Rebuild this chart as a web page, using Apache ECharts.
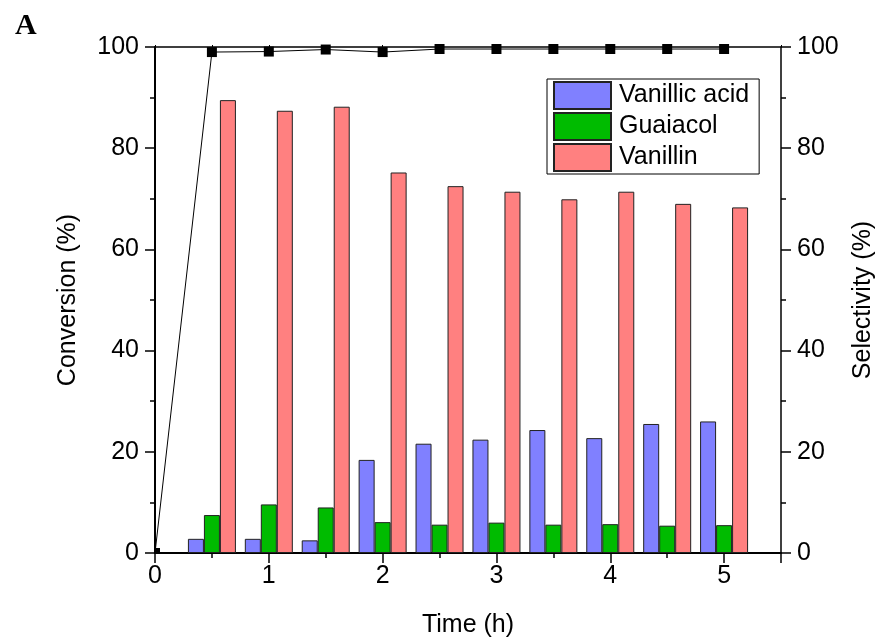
<!DOCTYPE html>
<html>
<head>
<meta charset="utf-8">
<script src="https://cdn.jsdelivr.net/npm/echarts@6/dist/echarts.min.js"></script>
<style>
  html, body { margin: 0; padding: 0; background: #fff; }
  #chart { width: 884px; height: 643px; }
</style>
</head>
<body>
<div id="chart"></div>
<script>
// Reaction time (h) for each sampled point
const times = [0.5, 1.0, 1.5, 2.0, 2.5, 3.0, 3.5, 4.0, 4.5, 5.0];

// Product selectivity (%)
const vanillicAcid = [2.8, 2.8, 2.5, 18.4, 21.6, 22.4, 24.3, 22.7, 25.5, 26.0];
const guaiacol     = [7.5, 9.6, 9.0, 6.1, 5.6, 6.0, 5.6, 5.7, 5.4, 5.5];
const vanillin     = [89.5, 87.4, 88.2, 75.2, 72.5, 71.4, 69.9, 71.4, 69.0, 68.3];

// Conversion (%) including the starting point at t = 0
const convTimes  = [0, 0.5, 1.0, 1.5, 2.0, 2.5, 3.0, 3.5, 4.0, 4.5, 5.0];
const conversion = [0, 99.0, 99.1, 99.5, 99.0, 99.6, 99.6, 99.6, 99.6, 99.6, 99.6];

const seriesNames = ['Vanillic acid', 'Guaiacol', 'Vanillin'];
const seriesColors = ['#8080ff', '#00bb00', '#ff8080'];

const FONT = 'Liberation Sans, Arial, sans-serif';
const FS = 25;
const pair = (xs, ys) => xs.map((x, i) => [x, ys[i]]);

const chart = echarts.init(document.getElementById('chart'), null, { renderer: 'canvas' });

const barSeries = [vanillicAcid, guaiacol, vanillin].map((vals, i) => ({
  name: seriesNames[i],
  type: 'bar',
  data: pair(times, vals),
  barWidth: 16,
  barGap: '0%',
  itemStyle: { color: seriesColors[i], borderColor: '#222', borderWidth: 1 },
  emphasis: { disabled: true },
  z: 2
}));

const convData = pair(convTimes, conversion).map((p, i) => i === 0
  ? { value: p, symbolSize: 5, symbolOffset: [2.5, -2.5] }
  : { value: p });

const yCommon = {
  type: 'value', min: 0, max: 100, interval: 20,
  splitLine: { show: false },
  minorTick: { show: true, splitNumber: 2, length: 5, lineStyle: { color: '#000', width: 1.5 } },
  axisTick: { show: true, inside: false, length: 10, lineStyle: { color: '#000', width: 1.5 } },
  axisLabel: { color: '#000', fontSize: FS, fontFamily: FONT, margin: 16 },
  nameLocation: 'middle',
  nameTextStyle: { color: '#000', fontSize: FS, fontFamily: FONT }
};

chart.setOption({
  animation: false,
  backgroundColor: '#fff',
  title: {
    text: 'A', left: 10, top: 6,
    textStyle: { fontFamily: 'Liberation Serif, Times New Roman, serif', fontWeight: 'bold', fontSize: 30, color: '#000' }
  },
  grid: { left: 155, right: 101, top: 47, bottom: 89 },
  legend: {
    data: seriesNames,
    orient: 'vertical',
    left: 547, top: 79,
    icon: 'rect',
    itemWidth: 57, itemHeight: 27, itemGap: 2,
    padding: [2, 10, 2, 6],
    borderColor: '#000', borderWidth: 1,
    textStyle: { color: '#000', fontSize: FS, lineHeight: 27, fontFamily: FONT, padding: [0, 0, 0, 3] },
    selectedMode: false
  },
  xAxis: [
    {
      type: 'value', min: 0, max: 5.5, interval: 1, position: 'bottom',
      name: 'Time (h)', nameLocation: 'middle', nameGap: 60,
      nameTextStyle: { color: '#000', fontSize: FS, fontFamily: FONT },
      axisLine: { show: true, onZero: false, lineStyle: { color: '#000', width: 2 } },
      axisTick: { show: true, length: 10, lineStyle: { color: '#000', width: 1.5 } },
      minorTick: { show: true, splitNumber: 2, length: 5, lineStyle: { color: '#000', width: 1.5 } },
      splitLine: { show: false },
      axisLabel: {
        color: '#000', fontSize: FS, fontFamily: FONT, margin: 11,
        formatter: v => (Number.isInteger(v) ? String(v) : '')
      }
    },
    {
      type: 'value', min: 0, max: 5.5, interval: 0.5, position: 'top',
      axisLine: { show: true, onZero: false, lineStyle: { color: '#000', width: 1.5 } },
      axisTick: { show: true, length: 2, lineStyle: { color: '#000', width: 1 } },
      axisLabel: { show: false },
      splitLine: { show: false }
    }
  ],
  yAxis: [
    Object.assign({}, yCommon, {
      position: 'left', name: 'Conversion (%)', nameGap: 74,
      axisLine: { show: true, onZero: false, lineStyle: { color: '#000', width: 2 } }
    }),
    Object.assign({}, yCommon, {
      position: 'right', name: 'Selectivity (%)', nameGap: 70,
      axisLine: { show: true, onZero: false, lineStyle: { color: '#000', width: 1.5 } }
    })
  ],
  series: barSeries.concat([{
    name: 'Conversion',
    type: 'line',
    data: convData,
    symbol: 'rect',
    symbolSize: 10,
    clip: false,
    lineStyle: { color: '#000', width: 1 },
    itemStyle: { color: '#000' },
    emphasis: { disabled: true },
    z: 5
  }])
});
</script>
</body>
</html>
